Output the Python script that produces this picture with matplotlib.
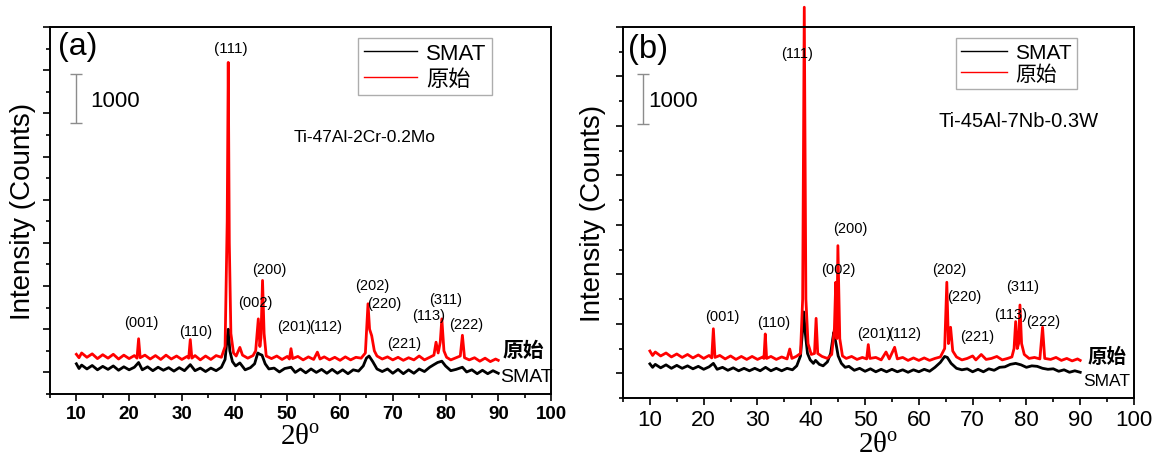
import numpy as np
import matplotlib
matplotlib.use('Agg')
import matplotlib.pyplot as plt
from matplotlib.ticker import MultipleLocator

plt.rcParams['font.family'] = ['Liberation Sans', 'Noto Sans CJK SC']
plt.rcParams['mathtext.fontset'] = 'custom'
plt.rcParams['mathtext.rm'] = 'Liberation Serif'

# ---- panel (a) Ti-47Al-2Cr-0.2Mo ----
a_smat_x = [10, 10.5, 11, 12, 13, 14, 15, 16, 17, 18, 19, 20, 21, 21.8, 22.5, 23.5, 24.5, 25.5,
            26.5, 27.5, 28.5, 29.5, 30.5, 31.6, 32.5, 33.5, 34.5, 35.5, 36.5, 37.5, 38.2, 38.6,
            38.8, 39.1, 39.6, 40.2, 41.0, 42, 43, 43.8, 44.4, 44.8, 45.2, 45.8, 46.5, 47.5, 48.5,
            49.5, 50.7, 51.5, 52.5, 53.5, 54.5, 55.5, 56.5, 57.5, 58.5, 59.5, 60.5, 61.5, 62.5,
            63.5, 64.4, 65.0, 65.5, 66.2, 67, 68, 69, 70, 71, 72, 73, 74, 75, 76, 77, 77.8, 78.5,
            79.3, 80, 81, 82, 83.2, 84, 85, 86, 87, 88, 89, 90]
a_smat_y = [200, 90, 170, 80, 160, 60, 140, 70, 150, 50, 130, 60, 120, 230, 60, 130, 40, 120,
            50, 110, 30, 110, 40, 180, 40, 100, 20, 100, 40, 120, 300, 800,
            1000, 500, 250, 150, 220, 60, 110, 200, 450, 420, 400, 200, 80, 100, 10,
            90, 120, 0, 80, -10, 80, 0, 70, -20, 70, -20, 60, -30, 60,
            30, 150, 330, 380, 250, 80, 20, 80, -20, 70, -30, 60, -20, 80, 20, 120, 180, 230,
            260, 150, 40, 70, 120, 10, 60, -30, 50, -30, 40, -20]
a_raw_x = [10, 10.5, 11, 12, 13, 14, 15, 16, 17, 18, 19, 20, 21, 21.5, 21.8, 22.1, 23, 24, 25,
           26, 27, 28, 29, 30, 31, 31.3, 31.6, 31.9, 32.5, 33.5, 34.5, 35.5, 36.5, 37.5, 38.2,
           38.6, 38.8, 39.0, 39.3, 39.8, 40.3, 41.0, 41.5, 42.5, 43.5, 44.0, 44.5, 44.8, 45.0,
           45.3, 45.6, 46.0, 47, 48, 49, 50, 50.4, 50.7, 51.0, 52, 53, 54, 55, 55.7, 56.2, 57,
           58, 59, 60, 61, 62, 63, 64, 64.8, 65.3, 65.6, 66.0, 66.5, 67, 68, 69, 70, 71, 72, 73,
           74, 75, 76, 77, 77.8, 78.2, 78.6, 79.0, 79.3, 79.7, 80.2, 81, 82, 82.8, 83.2, 83.6,
           84.5, 85.5, 86.5, 87.5, 88.5, 89.5, 90]
a_raw_y = [420, 340, 450, 350, 430, 320, 410, 330, 420, 310, 400, 320, 390, 330, 780, 340, 400,
           310, 390, 300, 400, 310, 380, 300, 370, 330, 760, 330, 390, 290, 380, 300, 390, 350,
           600, 3500, 7180, 3000, 900, 450, 380, 580, 400, 330, 390, 500, 1240, 600, 800,
           2130, 900, 380, 320, 380, 300, 370, 310, 550, 320, 370, 290, 360, 300, 470, 310, 360,
           290, 350, 280, 360, 290, 350, 330, 450, 1590, 1000, 850, 500, 380, 310, 360, 290, 350,
           280, 340, 290, 380, 290, 350, 400, 700, 450, 700, 1240, 500, 350, 290, 340, 380, 860,
           340, 290, 340, 260, 330, 250, 310, 280]
a_hkl = ['(001)', '(110)', '(111)', '(002)', '(200)', '(201)', '(112)', '(202)', '(220)',
         '(221)', '(113)', '(311)', '(222)']
a_hkl_x = [22.4, 32.6, 39.3, 44.0, 46.5, 51.4, 57.3, 66.2, 68.4, 72.1, 76.8, 80.0, 84.0]
a_hkl_y = [1160, 970, 7520, 1640, 2385, 1065, 1065, 2015, 1600, 670, 1320, 1690, 1110]

# ---- panel (b) Ti-45Al-7Nb-0.3W ----
b_smat_x = [10, 10.5, 11, 12, 13, 14, 15, 16, 17, 18, 19, 20, 21, 21.8, 22.5, 23.5, 24.5, 25.5,
            26.5, 27.5, 28.5, 29.5, 30.5, 31.5, 32.5, 33.5, 34.5, 35.5, 36.5, 37.3, 38.0, 38.4,
            38.6, 38.9, 39.3, 39.8, 40.4, 40.8, 41.5, 42.2, 43.0, 43.6, 44.0, 44.2, 44.6, 45.0,
            45.6, 46.3, 47, 48, 49, 50, 51, 52, 53, 54, 55, 56, 57, 58, 59, 60, 61, 62, 63, 64,
            64.8, 65.3, 66, 67, 68, 69, 70, 71, 72, 73, 74, 75, 76, 77, 78, 79, 80, 81, 82, 83,
            84, 85, 86, 87, 88, 89, 90]
b_smat_y = [190, 120, 180, 110, 170, 100, 160, 100, 150, 90, 140, 80, 130, 200, 80, 120, 60, 110,
            50, 100, 50, 100, 50, 120, 50, 100, 50, 100, 70, 150, 350, 900,
            1240, 800, 400, 270, 200, 260, 180, 150, 230, 400, 700, 830, 600, 350,
            200, 120, 140, 60, 100, 40, 90, 30, 80, 30, 80, 30, 70, 20, 70, 30, 80, 40, 120, 220,
            340, 320, 200, 100, 70, 90, 30, 80, 30, 90, 60, 120, 130, 180, 200, 170, 120, 150, 140, 100,
            80, 90, 40, 70, 20, 50, 20]
b_raw_x = [10, 10.5, 11, 12, 13, 14, 15, 16, 17, 18, 19, 20, 21, 21.5, 21.8, 22.1, 23, 24, 25,
           26, 27, 28, 29, 30, 31, 31.2, 31.45, 31.7, 32.5, 33.5, 34.5, 35.5, 36.0, 36.4, 37.2,
           38.0, 38.4, 38.7, 39.0, 39.4, 40.0, 40.6, 40.9, 41.2, 42, 43, 43.8, 44.3, 44.55, 44.75,
           44.95, 45.3, 45.8, 46.5, 47.5, 48.5, 49.5, 50.3, 50.6, 50.9, 52, 53, 53.9, 54.5, 55.5,
           56, 57, 58, 59, 60, 61, 62, 63, 64, 64.8, 65.2, 65.5, 65.9, 66.3, 67, 68, 69, 70, 70.6,
           71.6, 72.5, 73.5, 74.5, 75.5, 76.5, 77.3, 77.7, 78.0, 78.3, 78.55, 78.8, 79.1, 79.6,
           80.5, 81.5, 82.5, 83.0, 83.4, 84.5, 85.5, 86.5, 87.5, 88.5, 89.5, 90]
b_raw_y = [450, 360, 430, 350, 410, 330, 390, 320, 380, 310, 370, 300, 360, 310, 900, 320, 360,
           290, 350, 280, 340, 280, 340, 280, 330, 300, 795, 300, 340, 280, 330, 290, 490, 300, 340,
           400, 1500, 7400, 1500, 600, 380, 400, 1110, 400, 340, 300, 380, 900, 1840, 700,
           2580, 700, 350, 300, 340, 280, 320, 290, 580, 300, 320, 270, 430, 290, 525,
           290, 320, 260, 310, 260, 310, 260, 300, 330, 500, 1840, 600, 930, 450, 330, 270, 300, 350, 270,
           380, 280, 300, 340, 270, 300, 330, 500, 1045, 500, 600, 1380, 600, 380,
           300, 320, 290, 930, 300, 280, 320, 260, 300, 250, 290, 260]
b_hkl = ['(001)', '(110)', '(111)', '(002)', '(200)', '(201)', '(112)', '(202)', '(220)',
         '(221)', '(113)', '(311)', '(222)']
b_hkl_x = [23.5, 33.1, 37.4, 45.1, 47.2, 51.7, 57.4, 65.6, 68.4, 70.9, 77.0, 79.3, 83.1]
b_hkl_y = [1165, 1030, 6480, 2100, 2935, 810, 810, 2100, 1560, 760, 1200, 1760, 1050]

fig = plt.figure(figsize=(11.53, 4.6), dpi=100)
ax1 = fig.add_axes([50/1153, 65/460, 501/1153, 367/460])
ax2 = fig.add_axes([623/1153, 61/460, 511/1153, 371/460])


def style_axes(ax, ylim, tick_size, tick_weight):
    ax.set_xlim(5, 100)
    ax.set_ylim(*ylim)
    ax.xaxis.set_major_locator(MultipleLocator(10))
    ax.xaxis.set_minor_locator(MultipleLocator(5))
    ax.yaxis.set_major_locator(MultipleLocator(1000))
    ax.yaxis.set_minor_locator(MultipleLocator(500))
    ax.tick_params(which='both', direction='out', top=False, right=False, width=1.2)
    ax.tick_params(which='major', length=5)
    ax.tick_params(which='minor', length=3)
    ax.tick_params(axis='y', labelleft=False)
    ax.tick_params(axis='x', labelsize=tick_size, pad=3)
    ax.set_xticks(range(10, 101, 10))
    for lab in ax.get_xticklabels():
        lab.set_fontweight(tick_weight)
    for sp in ax.spines.values():
        sp.set_linewidth(1.4)
    ax.set_ylabel('Intensity (Counts)', fontsize=20)
    ax.set_xlabel('2θ$^{\\rm o}$', fontsize=21, family='Liberation Serif', labelpad=1)


# panel (a)
ax1.plot(a_smat_x, a_smat_y, color='black', lw=2.0, label='SMAT')
ax1.plot(a_raw_x, a_raw_y, color='red', lw=2.0, label='原始')
style_axes(ax1, (-500, 8000), 13.5, 'bold')
ax1.yaxis.set_label_coords(-0.027, 0.5)
for t, x, y in zip(a_hkl, a_hkl_x, a_hkl_y):
    ax1.text(x, y, t, fontsize=11 if t == '(111)' else 10.5, ha='center', va='center')
ax1.text(6.5, 7550, '(a)', fontsize=23, va='center', ha='left')
ax1.errorbar([9.9], [6340], yerr=[[575], [575]], color='#8c8c8c', capsize=4.5, lw=1, capthick=1)
ax1.text(12.6, 6300, '1000', fontsize=16, va='center', ha='left')
ax1.text(64.7, 5460, 'Ti-47Al-2Cr-0.2Mo', fontsize=12.5, ha='center', va='center')
ax1.text(94.7, 510, '原始', fontsize=15, fontweight='bold', ha='center', va='center')
ax1.text(95.3, -100, 'SMAT', fontsize=14, ha='center', va='center')
leg1 = ax1.legend(loc='upper right', bbox_to_anchor=(0.882, 0.971), fontsize=16,
                  fancybox=False, edgecolor='#999999', handlelength=2.4, handletextpad=0.4,
                  borderpad=0.25, labelspacing=0.2, borderaxespad=0)
leg1.get_frame().set_linewidth(1)
for l in leg1.get_lines():
    l.set_linewidth(1)

# panel (b)
ax2.plot(b_smat_x, b_smat_y, color='black', lw=2.0, label='SMAT')
ax2.plot(b_raw_x, b_raw_y, color='red', lw=2.0, label='原始', clip_on=False)
style_axes(ax2, (-500, 7000), 16, 'normal')
ax2.yaxis.set_label_coords(-0.034, 0.5)
for t, x, y in zip(b_hkl, b_hkl_x, b_hkl_y):
    ax2.text(x, y, t, fontsize=10.5, ha='center', va='center')
ax2.text(5.9, 6560, '(b)', fontsize=23.5, va='center', ha='left')
ax2.errorbar([8.8], [5540], yerr=[[510], [510]], color='#8c8c8c', capsize=4.5, lw=1, capthick=1)
ax2.text(9.7, 5520, '1000', fontsize=16, va='center', ha='left')
ax2.text(78.6, 5100, 'Ti-45Al-7Nb-0.3W', fontsize=14.5, ha='center', va='center')
ax2.text(95.0, 335, '原始', fontsize=14, fontweight='bold', ha='center', va='center')
ax2.text(94.9, -150, 'SMAT', fontsize=12.5, ha='center', va='center')
leg2 = ax2.legend(loc='upper right', bbox_to_anchor=(0.888, 0.971), fontsize=15,
                  fancybox=False, edgecolor='#999999', handlelength=2.2, handletextpad=0.4,
                  borderpad=0.25, labelspacing=0.1, borderaxespad=0)
leg2.get_frame().set_linewidth(1)
for l in leg2.get_lines():
    l.set_linewidth(1)

fig.savefig('out.png', dpi=100)
